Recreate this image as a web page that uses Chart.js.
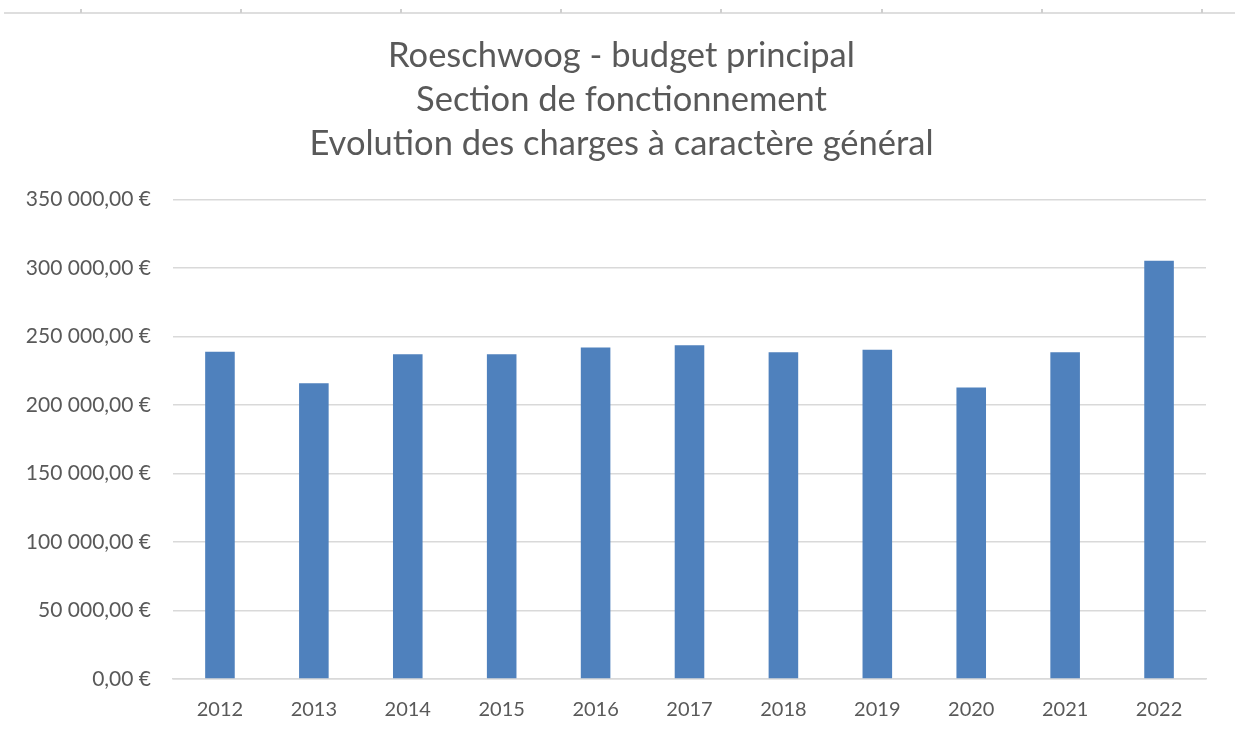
<!DOCTYPE html>
<html>
<head>
<meta charset="utf-8">
<script src="https://cdn.jsdelivr.net/npm/chart.js@4"></script>
<style>
  html,body{margin:0;padding:0;background:#fff;}
  #wrap{position:relative;width:1235px;height:735px;overflow:hidden;}
  #c{position:absolute;left:0;top:0;}
  .hline{position:absolute;left:4px;right:0;top:12px;height:2px;background:#dedede;}
  .tick{position:absolute;top:9px;width:2px;height:4px;background:#cfcfcf;}
</style>
</head>
<body>
<div id="wrap">
  <canvas id="c" width="1235" height="735"></canvas>
  <div class="hline"></div>
</div>
<script>
const categories = ["2012","2013","2014","2015","2016","2017","2018","2019","2020","2021","2022"];
const charges = [238800, 215900, 237000, 237000, 241900, 243600, 238500, 240400, 212800, 238500, 305200];
const titleLines = ["Roeschwoog - budget principal", "Section de fonctionnement", "Evolution des charges à caractère général"];
const yMin = 0, yMax = 350000, yStep = 50000;

// decorative spreadsheet column marks at top
(function(){
  const wrap = document.getElementById('wrap');
  for (let i = 0; i < 8; i++) {
    const t = document.createElement('div');
    t.className = 'tick';
    t.style.left = (80 + i * 160.1) + 'px';
    wrap.appendChild(t);
  }
})();

function fmtEuro(v){
  const s = Math.round(v).toString().replace(/\B(?=(\d{3})+(?!\d))/g, ' ');
  return s + ',00 €';
}

const FONT = "Lato, 'Open Sans', sans-serif";
const TXT = '#595959';

const titleShift = {
  id: 'titleShift',
  afterLayout(chart) {
    const t = chart.titleBlock;
    if (t) { t.left = 8; t.right = chart.width; }
  }
};

new Chart(document.getElementById('c'), {
  type: 'bar',
  data: {
    labels: categories,
    datasets: [{
      data: charges,
      backgroundColor: '#4f81bd',
      borderWidth: 0,
      categoryPercentage: 1.0,
      barPercentage: 0.315
    }]
  },
  plugins: [titleShift],
  options: {
    responsive: false,
    animation: false,
    devicePixelRatio: 1,
    layout: { padding: { top: 34, right: 29, bottom: -6, left: 0 } },
    plugins: {
      legend: { display: false },
      tooltip: { enabled: false },
      title: {
        display: true,
        text: titleLines,
        color: TXT,
        font: { family: FONT, size: 34.5, weight: 'normal', lineHeight: 1.275 },
        padding: { top: 0, bottom: 33.5 }
      }
    },
    scales: {
      x: {
        grid: { display: false, drawTicks: false },
        border: { display: true, color: '#d9d9d9', width: 1.5 },
        ticks: { color: TXT, font: { family: FONT, size: 20 }, padding: 19 }
      },
      y: {
        min: yMin, max: yMax,
        afterFit: (s) => { s.width = 173; },
        grid: { color: '#d9d9d9', lineWidth: 1.5, drawTicks: false },
        border: { display: false },
        ticks: {
          stepSize: yStep,
          color: TXT,
          font: { family: FONT, size: 21 },
          padding: 22,
          callback: (v) => fmtEuro(v)
        }
      }
    }
  }
});
</script>
</body>
</html>
